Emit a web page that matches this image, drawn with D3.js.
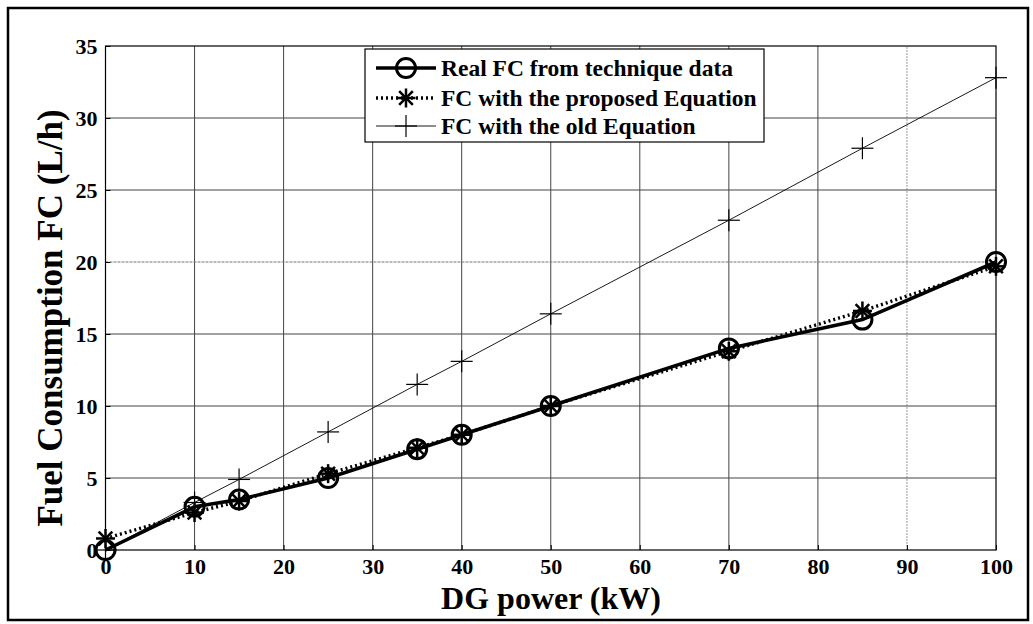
<!doctype html>
<html lang="en-US">
<head>
<meta charset="UTF-8">
<title>Fuel consumption vs DG power</title>
<script src="https://d3js.org/d3.v7.js" charset="utf-8"></script>
<style>
    body { margin: 0; background: #fff; }
    svg text { font-family: "Liberation Serif", "Times New Roman", serif; font-weight: bold; fill: #000; }
</style>
</head>
<body>
<svg id="cvas" width="1033" height="624"></svg>
<script>
    // ---- data ---- //
    const power = [0, 10, 15, 25, 35, 40, 50, 70, 85, 100];
    const fc_real = [0, 3, 3.5, 5, 7, 8, 10, 14, 16, 20];
    const fc_proposed = [0.8, 2.6, 3.4, 5.3, 7.1, 8.0, 10.0, 13.8, 16.6, 19.7];
    const fc_old = [0, 3.3, 4.9, 8.2, 11.5, 13.1, 16.4, 22.9, 27.9, 32.8];
    const x_ticks = [0, 10, 20, 30, 40, 50, 60, 70, 80, 90, 100];
    const y_ticks = [0, 5, 10, 15, 20, 25, 30, 35];
    const legend_labels = ["Real FC from technique data", "FC with the proposed Equation", "FC with the old Equation"];

    const svg = d3.select("#cvas");

    // outer frame
    svg.append("rect").attr("x", 8).attr("y", 8).attr("width", 1020).attr("height", 612)
        .attr("fill", "none").attr("stroke", "#000").attr("stroke-width", 2.5);

    const x = d3.scaleLinear().domain([0, 100]).range([105.5, 996]);
    const y = d3.scaleLinear().domain([0, 35]).range([550, 46]);

    // grid
    svg.append("g").selectAll("line").data(x_ticks.slice(1, -1)).enter().append("line")
        .attr("x1", d => x(d)).attr("x2", d => x(d)).attr("y1", y(0)).attr("y2", y(35))
        .style("stroke", d => d == 90 ? "#999" : "#444").style("stroke-width", 1)
        .style("stroke-dasharray", d => d == 90 ? "2,1" : null);
    svg.append("g").selectAll("line").data(y_ticks.slice(1, -1)).enter().append("line")
        .attr("x1", x(0)).attr("x2", x(100)).attr("y1", d => y(d)).attr("y2", d => y(d))
        .style("stroke", d => d == 20 ? "#777" : "#444").style("stroke-width", 1)
        .style("stroke-dasharray", d => d == 20 ? "3,1" : null);

    // axes box
    svg.append("rect").attr("x", x(0)).attr("y", y(35)).attr("width", x(100) - x(0)).attr("height", y(0) - y(35))
        .attr("fill", "none").attr("stroke", "#000").attr("stroke-width", 1.2);

    // axes with inward ticks
    const xAxis = d3.axisBottom(x).tickValues(x_ticks).tickSize(-5).tickPadding(8);
    const gx = svg.append("g").attr("transform", `translate(0,${y(0)})`).call(xAxis);
    const yAxis = d3.axisLeft(y).tickValues(y_ticks).tickSize(-5).tickPadding(8);
    const gy = svg.append("g").attr("transform", `translate(${x(0)},0)`).call(yAxis);
    [gx, gy].forEach(g => {
        g.select(".domain").remove();
        g.selectAll(".tick line").attr("stroke", "#000").attr("stroke-width", 1);
        g.selectAll(".tick text").style("font-size", "22px").attr("fill", "#000");
    });
    gx.selectAll(".tick text").attr("dy", "0.71em");
    gy.selectAll(".tick text").attr("dy", "0.34em");

    // axis labels
    svg.append("text").text("DG power (kW)").attr("x", 551).attr("y", 609)
        .attr("text-anchor", "middle").style("font-size", "32px");
    svg.append("text").text("Fuel Consumption FC (L/h)")
        .attr("transform", "translate(62,318) rotate(-90)")
        .attr("text-anchor", "middle").style("font-size", "35px");

    // lines
    const line_of = vals => d3.line().x((d, i) => x(power[i])).y(d => y(d))(vals);

    svg.append("path").attr("d", line_of(fc_old)).attr("fill", "none")
        .attr("stroke", "#000").attr("stroke-width", 0.9);
    svg.append("path").attr("d", line_of(fc_real)).attr("fill", "none")
        .attr("stroke", "#000").attr("stroke-width", 3.6);
    svg.append("path").attr("d", line_of(fc_proposed)).attr("fill", "none")
        .attr("stroke", "#000").attr("stroke-width", 3.4).attr("stroke-dasharray", "2,3");

    // markers
    function plus(g, cx, cy, s, w) {
        g.append("line").attr("x1", cx - s).attr("x2", cx + s).attr("y1", cy).attr("y2", cy)
            .attr("stroke", "#000").attr("stroke-width", w);
        g.append("line").attr("x1", cx).attr("x2", cx).attr("y1", cy - s).attr("y2", cy + s)
            .attr("stroke", "#000").attr("stroke-width", w);
    }
    function star(g, cx, cy, s, w) {
        plus(g, cx, cy, s, w);
        const d = s * 0.72;
        g.append("line").attr("x1", cx - d).attr("x2", cx + d).attr("y1", cy - d).attr("y2", cy + d)
            .attr("stroke", "#000").attr("stroke-width", w);
        g.append("line").attr("x1", cx - d).attr("x2", cx + d).attr("y1", cy + d).attr("y2", cy - d)
            .attr("stroke", "#000").attr("stroke-width", w);
    }
    function circ(g, cx, cy, r) {
        g.append("circle").attr("cx", cx).attr("cy", cy).attr("r", r)
            .attr("fill", "none").attr("stroke", "#000").attr("stroke-width", 3);
    }

    const mk = svg.append("g");
    power.forEach((p, i) => plus(mk, x(p), y(fc_old[i]), 11, 1.2));
    power.forEach((p, i) => circ(mk, x(p), y(fc_real[i]), 9.5));
    power.forEach((p, i) => star(mk, x(p), y(fc_proposed[i]), 9.5, 2.5));

    // legend
    const lg = svg.append("g");
    lg.append("rect").attr("x", 365).attr("y", 49).attr("width", 399).attr("height", 93)
        .attr("fill", "#fff").attr("stroke", "#000").attr("stroke-width", 1.2);
    const rows = [68, 98, 126];
    const lx1 = 376, lx2 = 436, lxm = 406;
    lg.append("line").attr("x1", lx1).attr("x2", lx2).attr("y1", rows[0]).attr("y2", rows[0])
        .attr("stroke", "#000").attr("stroke-width", 3.6);
    circ(lg, lxm, rows[0], 9.5);
    lg.append("line").attr("x1", lx1).attr("x2", lx2).attr("y1", rows[1]).attr("y2", rows[1])
        .attr("stroke", "#000").attr("stroke-width", 3.4).attr("stroke-dasharray", "2,3");
    star(lg, lxm, rows[1], 9.5, 2.5);
    lg.append("line").attr("x1", lx1).attr("x2", lx2).attr("y1", rows[2]).attr("y2", rows[2])
        .attr("stroke", "#000").attr("stroke-width", 0.9);
    plus(lg, lxm, rows[2], 11, 1.2);
    legend_labels.forEach((t, i) => {
        lg.append("text").text(t).attr("x", 441).attr("y", rows[i]).attr("dy", "0.33em")
            .style("font-size", "23.5px");
    });
</script>
</body>
</html>
